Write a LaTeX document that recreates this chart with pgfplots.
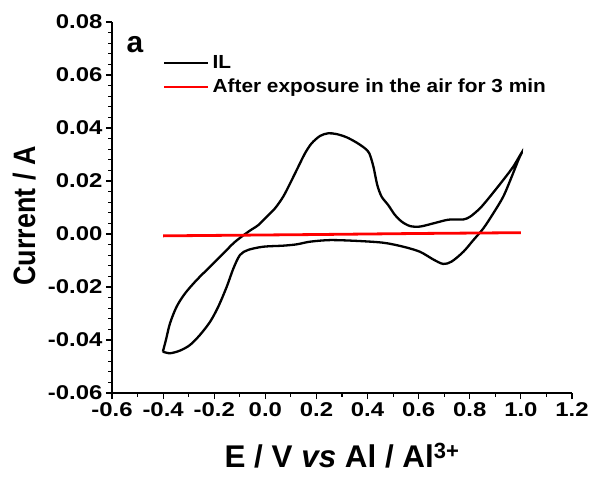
\documentclass[border=0pt]{standalone}
\usepackage{fontspec}
\setmainfont{Liberation Sans}
\newfontfamily\tickfont{Liberation Sans}[FakeStretch=1.2]
\newfontfamily\legfont{Liberation Sans}[FakeStretch=1.1]
\usepackage{pgfplots}
\pgfplotsset{compat=1.18}

\begin{document}
\begin{tikzpicture}
\begin{axis}[
    scale only axis,
    width=460bp, height=371bp,
    xmin=-0.6, xmax=1.2,
    ymin=-0.06, ymax=0.08,
    axis lines*=left,
    axis line style={line width=1.4bp},
    xtick={-0.6,-0.4,...,1.21},
    ytick={-0.06,-0.04,...,0.081},
    scaled y ticks=false,
    minor x tick num=1,
    minor y tick num=4,
    tick align=outside,
    major tick length=6bp,
    minor tick length=3.5bp,
    every tick/.style={line width=1.2bp, black},
    tick label style={font=\tickfont\fontsize{20}{22}\selectfont\bfseries},
    /pgf/number format/assume math mode=true,
    xticklabel style={/pgf/number format/fixed, /pgf/number format/fixed zerofill, /pgf/number format/precision=1},
    yticklabel style={/pgf/number format/fixed, /pgf/number format/fixed zerofill, /pgf/number format/precision=2},
    xlabel={E / V \textit{vs} Al / Al\textsuperscript{3+}},
    ylabel={Current / A},
    xlabel style={font=\fontsize{31.5}{33}\selectfont\bfseries, at={(rel axis cs:0.5,-0.17)}, anchor=center},
    ylabel style={font=\fontsize{27}{29}\selectfont\bfseries, at={(rel axis cs:-0.191,0.477)}, anchor=center, yscale=1.15},
    legend style={draw=none, fill=none, at={(rel axis cs:0.111,0.915)}, anchor=north west,
        font=\legfont\fontsize{19}{21}\selectfont\bfseries, inner sep=0pt,
        row sep=5bp, cells={anchor=west}},
    legend cell align=left,
    legend image code/.code={\draw[#1, line width=2bp] (0bp,0bp) -- (44bp,0bp); \path (45bp,0bp);},
    clip=false,
]
\addplot[black, line width=2.3bp, smooth, tension=0.5] coordinates {
    (-0.401,-0.0444) (-0.373,-0.0450) (-0.334,-0.0440) (-0.295,-0.0419)
    (-0.256,-0.0381) (-0.216,-0.0331) (-0.184,-0.0274) (-0.151,-0.0199)
    (-0.125,-0.0130) (-0.099,-0.0079) (-0.067,-0.0060) (-0.008,-0.0048)
    (0.070,-0.0044) (0.123,-0.0039) (0.175,-0.0029) (0.253,-0.0023)
    (0.357,-0.0026) (0.462,-0.0033) (0.540,-0.0048) (0.605,-0.0067)
    (0.657,-0.0096) (0.696,-0.0113) (0.729,-0.0104) (0.775,-0.0067)
    (0.814,-0.0023) (0.853,0.0021) (0.892,0.0078) (0.931,0.0141)
    (0.964,0.0216) (0.990,0.0279) (1.003,0.0307)
    (0.970,0.0254) (0.931,0.0204) (0.879,0.0141) (0.840,0.0097)
    (0.801,0.0065) (0.775,0.0055) (0.736,0.0055) (0.710,0.0053)
    (0.657,0.0040) (0.605,0.0028) (0.566,0.0030) (0.533,0.0047)
    (0.507,0.0072) (0.481,0.0109) (0.455,0.0141) (0.438,0.0185)
    (0.423,0.0254) (0.407,0.0304) (0.390,0.0323) (0.357,0.0345)
    (0.318,0.0365) (0.279,0.0377) (0.246,0.0380) (0.214,0.0370)
    (0.181,0.0342) (0.155,0.0304) (0.123,0.0242) (0.097,0.0191)
    (0.070,0.0141) (0.038,0.0097) (0.005,0.0065) (-0.027,0.0034)
    (-0.060,0.0013) (-0.093,-0.0010) (-0.125,-0.0035) (-0.164,-0.0073)
    (-0.216,-0.0123) (-0.269,-0.0174) (-0.314,-0.0224) (-0.347,-0.0274)
    (-0.373,-0.0337) (-0.389,-0.0400) (-0.401,-0.0444)
};
\addlegendentry{IL}
\addplot[red, line width=2.8bp] coordinates {
    (-0.400,-0.0007) (0.200,-0.0002) (0.600,0.0002) (1.000,0.0005)
};
\addlegendentry{After exposure in the air for 3 min}
\node[font=\fontsize{30}{32}\selectfont\bfseries] at (rel axis cs:0.05,0.938) {a};
\end{axis}
\path (current axis.south west) ++(-112bp,-86bp) rectangle (current axis.north east) ++(20bp,22bp);
\end{tikzpicture}
\end{document}
